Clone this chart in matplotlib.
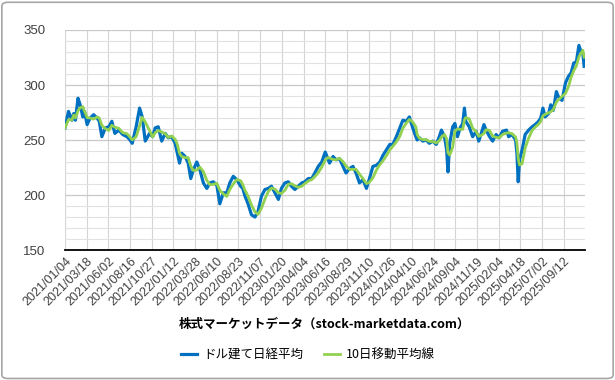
import matplotlib
matplotlib.use('Agg')
import matplotlib.pyplot as plt
import pandas as pd
from matplotlib.patches import FancyBboxPatch

plt.rcParams['font.family'] = ['Liberation Sans', 'Noto Sans CJK JP', 'DejaVu Sans']

# trading-day index (from 2021/01/04) and USD-denominated Nikkei
days = [0, 8, 16, 20, 24, 30, 35, 41, 45, 51, 58, 66, 74, 79, 85, 93, 101, 108, 115, 124,
        133, 143, 150, 155, 164, 172, 178, 185, 195,
        202, 208, 215, 223, 231, 238, 246, 254, 259, 264, 269, 277, 284, 290, 296, 304, 311,
        319, 327, 334, 342, 350, 357, 365, 373, 380, 388, 396,
        405, 410, 415, 422, 430, 438, 445, 453, 461, 469, 476, 484, 492, 499, 507, 515, 522,
        530, 538, 546, 553, 561, 569, 576, 584, 592, 600,
        606, 610, 618, 625, 633, 641, 648, 656, 664, 671, 679, 687, 695, 702, 710, 718, 726,
        733, 741, 749, 756, 764, 772, 779, 787, 794, 801, 809,
        812, 817, 825, 833, 840, 848, 856, 863, 868, 875, 880, 883, 887, 894, 899, 905, 911,
        917, 921, 924, 932, 940, 948, 954, 959, 966, 971, 979, 986, 994, 1001,
        1009, 1018, 1023, 1031, 1039, 1042, 1045, 1048, 1054, 1061, 1069, 1077, 1084, 1092,
        1097, 1102, 1107, 1115, 1120, 1126, 1133, 1138, 1146, 1154, 1161, 1167, 1173, 1179,
        1185, 1190, 1194, 1197]
usd_nikkei = [261, 276, 268, 274, 268, 288, 282, 271, 276, 264, 270, 273, 270, 267, 253, 261, 262, 267, 256, 259,
              255, 253, 250, 247, 262, 279, 271, 249, 256,
              253, 261, 262, 249, 256, 252, 253, 247, 238, 229, 238, 235, 229, 215, 223, 230, 223,
              211, 206, 211, 212, 209, 192, 202, 202, 211, 217, 214,
              208, 206, 199, 192, 182, 180, 185, 199, 205, 206, 208, 202, 196, 206, 211, 212, 208,
              205, 208, 211, 212, 215, 215, 220, 226, 230, 239,
              233, 229, 235, 232, 233, 226, 220, 224, 226, 220, 211, 214, 206, 215, 226, 227, 230,
              236, 241, 246, 246, 253, 261, 268, 267, 271, 262, 253,
              250, 252, 249, 250, 247, 249, 246, 253, 259, 253, 241, 221, 247, 262, 265, 253, 261,
              265, 279, 267, 262, 253, 258, 249, 255, 264, 259, 253, 249, 255, 252,
              258, 259, 253, 255, 250, 238, 212, 232, 241, 255, 259, 262, 264, 267,
              270, 279, 271, 274, 282, 277, 294, 289, 286, 302, 308, 311, 320, 321,
              336, 330, 329, 317]

tick_labels = ['2021/01/04', '2021/03/18', '2021/06/02', '2021/08/16', '2021/10/27', '2022/01/12',
               '2022/03/28', '2022/06/10', '2022/08/23', '2022/11/07', '2023/01/20', '2023/04/04',
               '2023/06/16', '2023/08/29', '2023/11/10', '2024/01/26', '2024/04/10', '2024/06/24',
               '2024/09/04', '2024/11/19', '2025/02/04', '2025/04/18', '2025/07/02', '2025/09/12']

df = pd.DataFrame({'day': days, 'usd': usd_nikkei})
df['ma10'] = df['usd'].rolling(3, min_periods=1).mean()

fig = plt.figure(figsize=(6.15, 3.8), dpi=100)
ax = fig.add_axes([65 / 615, 1 - 250 / 380, 520 / 615, 220 / 380])

ax.plot(df['day'], df['usd'], color='#0070C0', lw=2.3, label='ドル建て日経平均', zorder=3)
ax.plot(df['day'], df['ma10'], color='#92D050', lw=2.0, label='10日移動平均線', zorder=4)

ax.set_xlim(0, 1199)
ax.set_ylim(150, 350)
ax.set_yticks(range(150, 351, 50))
ax.set_yticks(range(150, 351, 10), minor=True)
ax.set_xticks([i * 50 for i in range(len(tick_labels))])
ax.set_xticklabels(tick_labels, rotation=45, ha='right', rotation_mode='anchor', fontsize=9, color='#404040')
ax.tick_params(axis='y', labelsize=9.5, labelcolor='#404040', length=0, pad=14)
ax.tick_params(axis='x', length=0, pad=4)
ax.tick_params(which='minor', length=0)

ax.grid(axis='y', which='major', color='#c8c8c8', lw=0.9)
ax.grid(axis='y', which='minor', color='#e2e2e2', lw=0.8)
ax.grid(axis='x', which='major', color='#d4d4d4', lw=0.8)
ax.set_axisbelow(True)
for s in ['top', 'right', 'left']:
    ax.spines[s].set_visible(False)
ax.spines['bottom'].set_color('black')
ax.spines['bottom'].set_linewidth(1.3)

fig.text(324 / 615, 1 - 324 / 380, '株式マーケットデータ（stock-marketdata.com）', ha='center', va='center',
         fontsize=9, fontweight='bold', family=['Noto Sans CJK JP', 'DejaVu Sans'])

fig.legend(loc='center', bbox_to_anchor=(308 / 615, 1 - 355 / 380), ncol=2, frameon=False,
           handlelength=1.3, columnspacing=1.6, handletextpad=0.5,
           prop={'family': ['Noto Sans CJK JP', 'DejaVu Sans'], 'size': 9})

fig.patches.append(FancyBboxPatch((0.003, 0.004), 0.994, 0.99, boxstyle='round,pad=0,rounding_size=0.01',
                                  transform=fig.transFigure, fill=False, edgecolor='#a6a6a6', lw=1.2))

plt.savefig('out.png', dpi=100)
